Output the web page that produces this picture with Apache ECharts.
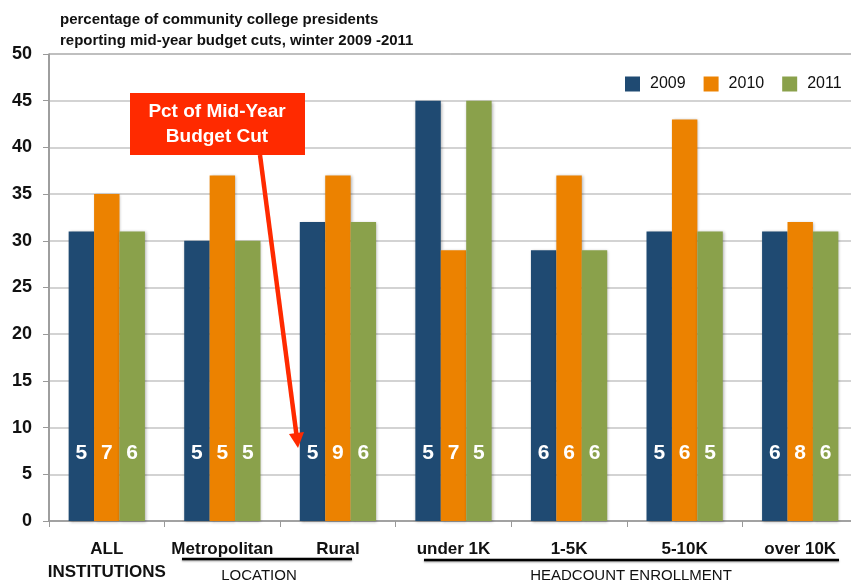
<!DOCTYPE html>
<html>
<head>
<meta charset="utf-8">
<script src="https://cdn.jsdelivr.net/npm/echarts@6/dist/echarts.min.js"></script>
<style>
html, body { margin: 0; padding: 0; background: #fff; }
#chart { width: 851px; height: 586px; }
</style>
</head>
<body>
<div id="chart"></div>
<script>
// budget cut percentages by institution type
var categories = ['ALL\nINSTITUTIONS', 'Metropolitan', 'Rural', 'under 1K', '1-5K', '5-10K', 'over 10K'];
var years = ['2009', '2010', '2011'];
var pct2009 = [31, 30, 32, 45, 29, 31, 31];
var pct2010 = [35, 37, 37, 29, 37, 43, 32];
var pct2011 = [31, 30, 32, 45, 29, 31, 31];
// numbers printed inside the bars
var n2009 = [5, 5, 5, 5, 6, 5, 6];
var n2010 = [7, 5, 9, 7, 6, 6, 8];
var n2011 = [6, 5, 6, 5, 6, 5, 6];
var yTicks = { min: 0, max: 50, interval: 5 };

var colors = ['#1f4a72', '#ec8200', '#8aa14b'];
var font = 'Liberation Sans, Arial, sans-serif';

function barSeries(name, values, counts) {
	return {
		name: name,
		type: 'bar',
		data: values,
		barGap: '0%',
		barCategoryGap: '34%',
		itemStyle: {
			shadowBlur: 3,
			shadowColor: 'rgba(0,0,0,0.3)',
			shadowOffsetX: 1,
			shadowOffsetY: 1
		},
		label: {
			show: true,
			position: 'insideBottom',
			distance: 57,
			color: '#fff',
			fontFamily: font,
			fontWeight: 'bold',
			fontSize: 21,
			formatter: function(params) {
				return counts[params.dataIndex];
			}
		}
	};
}

var chart = echarts.init(document.getElementById('chart'));
chart.setOption({
	animation: false,
	color: colors,
	title: {
		text: 'percentage of community college presidents\nreporting mid-year budget cuts, winter 2009 -2011',
		left: 55,
		top: 4,
		textStyle: {
			fontFamily: font,
			fontWeight: 'bold',
			fontSize: 15,
			lineHeight: 21,
			color: '#111'
		}
	},
	legend: {
		data: years,
		left: 620,
		top: 71,
		icon: 'rect',
		itemWidth: 15,
		itemHeight: 15,
		itemGap: 18,
		textStyle: {
			fontFamily: font,
			fontSize: 16,
			color: '#111',
			padding: [0, 0, 0, 5]
		}
	},
	grid: {
		left: 49,
		top: 54,
		width: 809,
		height: 467,
		outerBoundsMode: 'none',
		show: true,
		borderColor: '#666',
		borderWidth: 1
	},
	xAxis: {
		type: 'category',
		data: categories,
		axisLine: { lineStyle: { color: '#999', width: 1.5 } },
		axisTick: { show: true, length: 6, lineStyle: { color: '#999' } },
		axisLabel: {
			margin: 17,
			interval: 0,
			fontFamily: font,
			fontWeight: 'bold',
			fontSize: 17,
			lineHeight: 23,
			color: '#111'
		}
	},
	yAxis: {
		type: 'value',
		min: yTicks.min,
		max: yTicks.max,
		interval: yTicks.interval,
		axisLine: { show: true, lineStyle: { color: '#999', width: 1.5 } },
		axisTick: { show: true, length: 6, lineStyle: { color: '#999' } },
		splitLine: { lineStyle: { color: '#c4c4c4', width: 1.5 } },
		axisLabel: {
			margin: 17,
			fontFamily: font,
			fontWeight: 'bold',
			fontSize: 18,
			color: '#111'
		}
	},
	graphic: [
		// callout box and arrow
		{
			type: 'rect',
			shape: { x: 130, y: 93, width: 175, height: 62 },
			style: { fill: '#ff2a00' },
			z: 100
		},
		{
			type: 'text',
			x: 217,
			y: 124,
			style: {
				text: 'Pct of Mid-Year\nBudget Cut',
				fill: '#fff',
				font: 'bold 19px ' + font,
				lineHeight: 25,
				align: 'center',
				verticalAlign: 'middle'
			},
			z: 101
		},
		{
			type: 'line',
			shape: { x1: 260, y1: 155, x2: 296.5, y2: 435 },
			style: { stroke: '#ff2a00', lineWidth: 4.5 },
			z: 100
		},
		{
			type: 'polygon',
			shape: { points: [[304, 432], [289, 434], [298, 448]] },
			style: { fill: '#ff2a00' },
			z: 100
		},
		// group labels
		{
			type: 'line',
			shape: { x1: 182, y1: 559, x2: 352, y2: 559 },
			style: { stroke: '#000', lineWidth: 2.5, shadowBlur: 2, shadowColor: 'rgba(0,0,0,0.4)', shadowOffsetY: 1 }
		},
		{
			type: 'text',
			x: 259,
			y: 576,
			style: {
				text: 'LOCATION',
				fill: '#111',
				font: '15px ' + font,
				align: 'center',
				verticalAlign: 'middle'
			}
		},
		{
			type: 'line',
			shape: { x1: 424, y1: 560, x2: 839, y2: 560 },
			style: { stroke: '#000', lineWidth: 2.5, shadowBlur: 2, shadowColor: 'rgba(0,0,0,0.4)', shadowOffsetY: 1 }
		},
		{
			type: 'text',
			x: 631,
			y: 576,
			style: {
				text: 'HEADCOUNT ENROLLMENT',
				fill: '#111',
				font: '15px ' + font,
				align: 'center',
				verticalAlign: 'middle'
			}
		}
	],
	series: [
		barSeries(years[0], pct2009, n2009),
		barSeries(years[1], pct2010, n2010),
		barSeries(years[2], pct2011, n2011)
	]
});
</script>
</body>
</html>
